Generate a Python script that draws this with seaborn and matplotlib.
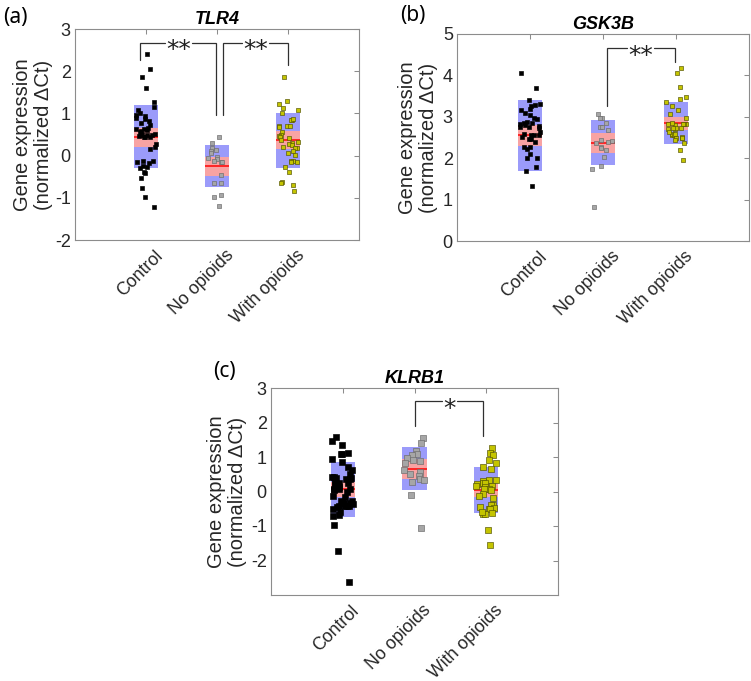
import numpy as np
import pandas as pd
import matplotlib
matplotlib.use("Agg")
import matplotlib.pyplot as plt
import seaborn as sns
from matplotlib.transforms import ScaledTranslation

# ---------------- data ----------------
groups = ["Control", "No opioids", "With opioids"]

tlr4_control = [2.41, 2.05, 1.87, 1.61, 1.26, 1.15, 1.08, 1.00, 0.97, 0.93, 0.89, 0.86,
                0.83, 0.77, 0.72, 0.66, 0.63, 0.60, 0.58, 0.62, 0.48, 0.43, 0.43, 0.47,
                0.48, 0.50, 0.52, 0.55, 0.45, 0.52, 0.28, 0.15, 0.20, -0.12, -0.12, -0.15,
                -0.17, -0.26, -0.25, -0.30, -0.40, -0.42, -0.52, -0.76, -0.98, -1.21]
tlr4_no = [0.43, 0.30, 0.17, 0.14, 0.10, 0.07, -0.03, -0.05, -0.08, -0.13, -0.16, -0.15,
           -0.47, -0.64, -0.65, -0.93, -0.97, -1.20]
tlr4_with = [1.86, 1.30, 1.23, 1.13, 1.08, 1.00, 0.85, 0.85, 0.86, 0.70, 0.70, 0.70, 0.68,
             0.55, 0.50, 0.47, 0.45, 0.42, 0.38, 0.33, 0.30, 0.28, 0.24, 0.20, 0.19, 0.17,
             0.12, 0.06, 0.02, -0.12, -0.12, -0.14, -0.15, -0.28, -0.40, -0.62, -0.64,
             -0.70, -0.85]

gsk_control = [4.05, 3.70, 3.41, 3.28, 3.30, 3.26, 3.19, 3.16, 3.08, 3.04, 2.96, 2.95, 2.88,
               2.83, 2.79, 2.77, 2.86, 2.75, 2.73, 2.75, 2.84, 2.64, 2.59, 2.55, 2.57, 2.52,
               2.46, 2.38, 2.55, 2.46, 2.27, 2.26, 2.22, 2.11, 2.00, 2.00, 1.79, 1.68, 1.32]
gsk_no = [3.06, 2.96, 2.98, 2.86, 2.76, 2.75, 2.67, 2.44, 2.42, 2.37, 2.40, 2.27, 2.24,
          2.19, 2.04, 1.82, 1.74, 0.81]
gsk_with = [4.18, 4.06, 3.71, 3.48, 3.43, 3.35, 3.26, 3.17, 3.07, 2.97, 2.82, 2.82, 2.80,
            2.83, 2.82, 2.85, 2.70, 2.74, 2.73, 2.70, 2.73, 2.56, 2.58, 2.64, 2.56, 2.59,
            2.48, 2.51, 2.49, 2.45, 2.49, 2.36, 2.19, 1.95]

klrb_control = [1.57, 1.45, 1.34, 1.13, 1.09, 1.09, 0.95, 0.85, 0.62, 0.52, 0.70, 0.41,
                0.40, 0.35, 0.39, 0.35, 0.41, 0.25, 0.25, 0.22, 0.24, 0.08, 0.12, 0.06,
                0.08, 0.04, 0.00, -0.16, -0.14, -0.30, -0.28, -0.32, -0.41, -0.43, -0.32,
                -0.28, -0.37, -0.41, -0.46, -0.43, -0.50, -0.60, -0.72, -0.68, -0.96,
                -1.73, -2.62]
klrb_no = [1.55, 1.41, 1.18, 1.08, 1.06, 0.97, 0.92, 0.87, 0.82, 0.62, 0.57, 0.52, 0.45,
           0.35, 0.34, 0.28, -0.09, -1.07]
klrb_with = [1.26, 1.12, 1.07, 0.92, 0.82, 0.71, 0.66, 0.32, 0.29, 0.32, 0.26, 0.24, 0.21,
             0.15, 0.17, 0.12, 0.07, 0.05, 0.06, -0.06, -0.12, -0.19, -0.38, -0.38, -0.47,
             -0.50, -0.52, -0.45, -0.62, -0.66, -0.66, -0.60, -1.11, -1.55]

# summary boxes: mean, SD band, 95% CI band
tlr4_mean = [0.45, -0.25, 0.36]
tlr4_sd_lo = [-0.30, -0.74, -0.29]
tlr4_sd_hi = [1.20, 0.24, 1.00]
tlr4_ci_lo = [0.21, -0.48, 0.15]
tlr4_ci_hi = [0.66, -0.03, 0.58]

gsk_mean = [2.56, 2.37, 2.85]
gsk_sd_lo = [1.70, 1.83, 2.35]
gsk_sd_hi = [3.40, 2.92, 3.35]
gsk_ci_lo = [2.30, 2.13, 2.68]
gsk_ci_hi = [2.80, 2.62, 3.00]

klrb_mean = [0.06, 0.66, 0.05]
klrb_sd_lo = [-0.75, 0.05, -0.62]
klrb_sd_hi = [0.86, 1.29, 0.71]
klrb_ci_lo = [-0.17, 0.36, -0.17]
klrb_ci_hi = [0.28, 0.94, 0.23]

# significance brackets: (group a, group b, left arm bottom, top, right arm bottom, label)
tlr4_sig = [("Control", "No opioids", 2.27, 2.68, 0.96, "**"),
            ("No opioids", "With opioids", 0.96, 2.68, 2.15, "**")]
gsk_sig = [("No opioids", "With opioids", 3.26, 4.65, 4.32, "**")]
klrb_sig = [("No opioids", "With opioids", 1.91, 2.61, 1.62, "*")]

# ---------------- style ----------------
sns.set_style("white")
plt.rcParams["font.family"] = ["Liberation Sans", "DejaVu Sans"]

BLUE = "#9b9bfa"
PINK = "#f8a3a3"
SPINE = "#8c8c8c"
TXT = "#262626"
face_colors = ["#000000", "#a6a6a6", "#c4c400"]
edge_colors = ["#000000", "#6a6a6a", "#505000"]

W, H = 751, 681
fig = plt.figure(figsize=(W / 100, H / 100), dpi=100)


def axes_px(left, top, right, bottom):
    return fig.add_axes([left / W, 1 - bottom / H, (right - left) / W, (bottom - top) / H])


def panel(ax, data, mean, sd_lo, sd_hi, ci_lo, ci_hi, ylim, yticks, title, sig,
          msize, ylabel_px, arm_shift, seed):
    np.random.seed(seed)
    df = pd.concat([pd.DataFrame({"group": g, "value": v}) for g, v in zip(groups, data)],
                   ignore_index=True)
    bw = 0.34
    pos = np.arange(len(groups))
    ax.bar(pos, np.array(sd_hi) - np.array(sd_lo), bottom=sd_lo, width=bw,
           color=BLUE, linewidth=0, zorder=1)
    ax.bar(pos, np.array(ci_hi) - np.array(ci_lo), bottom=ci_lo, width=bw,
           color=PINK, linewidth=0, zorder=2)
    ax.hlines(mean, pos - bw / 2, pos + bw / 2, color="#ff1010", lw=1.2, zorder=3)
    for i, g in enumerate(groups):
        sns.stripplot(data=df[df["group"] == g], x="group", y="value", order=groups,
                      color=face_colors[i], edgecolor=edge_colors[i], linewidth=0.45,
                      marker="s", size=msize, jitter=0.15, ax=ax, zorder=4)
    ax.set_xlim(-1, 3)
    ax.set_ylim(*ylim)
    ax.set_yticks(yticks)
    ax.set_yticklabels([f"{t:g}" for t in yticks])
    ax.set_xticks(pos)
    ax.set_xticklabels(groups)
    ax.set_xlabel("")
    ax.set_ylabel("Gene expression\n(normalized \u0394Ct)", fontsize=14.5, color=TXT,
                  linespacing=1.15)
    bbox = ax.get_position()
    ax.yaxis.set_label_coords(-ylabel_px / (bbox.width * W), 0.5)
    ax.set_title(title, fontsize=13, fontweight="bold", style="italic", pad=3.5, color="black")
    for s in ax.spines.values():
        s.set_color(SPINE)
        s.set_linewidth(0.8)
        s.set_visible(True)
    ax.tick_params(direction="in", length=3.5, width=0.75, color=SPINE, top=True,
                   right=True, labelsize=13, labelcolor=TXT)
    ax.tick_params(axis="y", pad=3)
    ax.tick_params(axis="x", pad=5, labelsize=12.8)
    off = ScaledTranslation(8 / 100, 0, fig.dpi_scale_trans)
    for lbl in ax.get_xticklabels():
        lbl.set_rotation(45)
        lbl.set_ha("right")
        lbl.set_va("top")
        lbl.set_rotation_mode("anchor")
        lbl.set_transform(lbl.get_transform() + off)
    # significance brackets
    for k, (ga, gb, yl, yt, yr, lab) in enumerate(sig):
        xa = groups.index(ga) + arm_shift[k][0]
        xb = groups.index(gb) + arm_shift[k][1]
        xm = (xa + xb) / 2
        gap = 0.085 * len(lab) + 0.02
        ax.plot([xa, xa, xm - gap], [yl, yt, yt], color="#303030", lw=0.9,
                solid_joinstyle="miter", zorder=5, clip_on=False)
        ax.plot([xm + gap, xb, xb], [yt, yt, yr], color="#303030", lw=0.9,
                solid_joinstyle="miter", zorder=5, clip_on=False)
        ax.annotate(lab, (xm, yt), xytext=(0, -10.6), textcoords="offset points",
                    ha="center", va="baseline", fontsize=18, family="DejaVu Sans",
                    color="#202020", zorder=6)


ax_a = axes_px(75, 29, 359, 240)
panel(ax_a, [tlr4_control, tlr4_no, tlr4_with], tlr4_mean, tlr4_sd_lo, tlr4_sd_hi,
      tlr4_ci_lo, tlr4_ci_hi, (-2, 3), [-2, -1, 0, 1, 2, 3], "TLR4", tlr4_sig,
      2.6, 22, [(-0.08, -0.01), (0.08, 0.0)], 3)

ax_b = axes_px(457, 34, 749, 241)
panel(ax_b, [gsk_control, gsk_no, gsk_with], gsk_mean, gsk_sd_lo, gsk_sd_hi,
      gsk_ci_lo, gsk_ci_hi, (0, 5), [0, 1, 2, 3, 4, 5], "GSK3B", gsk_sig,
      2.6, 19, [(0.05, -0.02)], 7)

ax_c = axes_px(271, 388, 558, 595)
panel(ax_c, [klrb_control, klrb_no, klrb_with], klrb_mean, klrb_sd_lo, klrb_sd_hi,
      klrb_ci_lo, klrb_ci_hi, (-3, 3), [-2, -1, 0, 1, 2, 3], "KLRB1", klrb_sig,
      4.4, 24, [(0.01, -0.04)], 11)

for x, y, t in [(3, 17, "(a)"), (400, 16, "(b)"), (213, 371, "(c)")]:
    fig.text(x / W, 1 - y / H, t, fontsize=15, family="Noto Sans", color="black",
             ha="left", va="center")

fig.savefig("out.png", dpi=100)
